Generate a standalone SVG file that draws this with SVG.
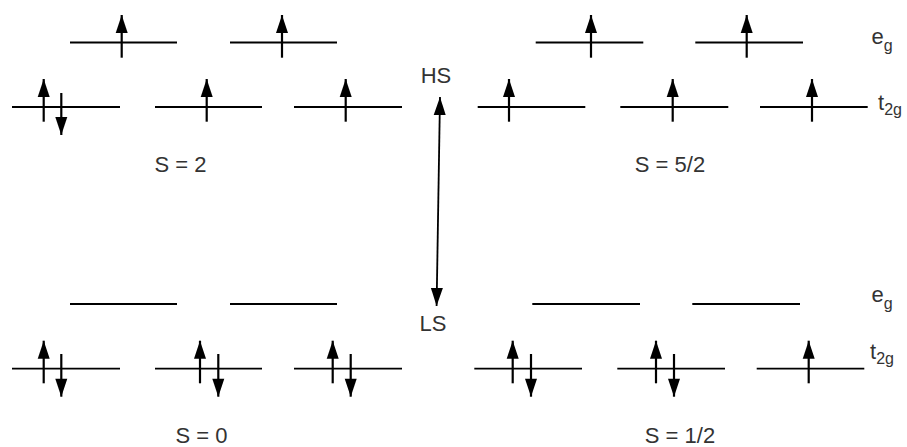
<svg xmlns="http://www.w3.org/2000/svg" width="907" height="447" viewBox="0 0 907 447">
<defs>
<marker id="ah" markerUnits="userSpaceOnUse" markerWidth="18" markerHeight="12" refX="18" refY="6" orient="auto" overflow="visible">
<path d="M0,0 L18,6 L0,12 z" fill="#000"/>
</marker>
<style>
.lv{stroke:#000;stroke-width:1.8;fill:none}
.sp{stroke:#000;stroke-width:2.2;fill:none;marker-end:url(#ah)}
.lb{font-family:"Liberation Sans",Arial,sans-serif;fill:#333}
.big{font-size:22px}
.orb{font-size:22px}
.sub{font-size:16px}
</style>
</defs>
<rect width="907" height="447" fill="#fff"/>

<g id="hs-s2">
<line class="lv" x1="70" y1="42.5" x2="177" y2="42.5"/>
<line class="lv" x1="230" y1="42.5" x2="337" y2="42.5"/>
<line class="sp" x1="121.7" y1="57.7" x2="121.7" y2="15"/>
<line class="sp" x1="282" y1="57.7" x2="282" y2="15"/>
<line class="lv" x1="12" y1="107" x2="120" y2="107"/>
<line class="lv" x1="155" y1="107" x2="262" y2="107"/>
<line class="lv" x1="294" y1="107" x2="402" y2="107"/>
<line class="sp" x1="43.7" y1="121.7" x2="43.7" y2="79"/>
<line class="sp" x1="61.3" y1="93" x2="61.3" y2="135"/>
<line class="sp" x1="206.7" y1="121.7" x2="206.7" y2="79"/>
<line class="sp" x1="345.7" y1="121.7" x2="345.7" y2="79"/>
<text class="lb big" x="180.5" y="172" text-anchor="middle">S = 2</text>
</g>

<g id="hs-s52">
<line class="lv" x1="535.7" y1="42.5" x2="643.3" y2="42.5"/>
<line class="lv" x1="695.3" y1="42.5" x2="803" y2="42.5"/>
<line class="sp" x1="591" y1="57.7" x2="591" y2="15"/>
<line class="sp" x1="746.7" y1="57.7" x2="746.7" y2="15"/>
<line class="lv" x1="477.7" y1="107" x2="585.3" y2="107"/>
<line class="lv" x1="620.3" y1="107" x2="728.3" y2="107"/>
<line class="lv" x1="760" y1="107" x2="867.7" y2="107"/>
<line class="sp" x1="509" y1="121.7" x2="509" y2="79"/>
<line class="sp" x1="672.7" y1="121.7" x2="672.7" y2="79"/>
<line class="sp" x1="812" y1="121.7" x2="812" y2="79"/>
<text class="lb big" x="670" y="172" text-anchor="middle">S = 5/2</text>
<text class="lb orb" x="871.5" y="44">e<tspan class="sub" dy="7">g</tspan></text>
<text class="lb orb" x="878" y="110">t<tspan class="sub" dy="5">2g</tspan></text>
</g>

<g id="ls-s0">
<line class="lv" x1="70" y1="304" x2="177" y2="304"/>
<line class="lv" x1="230" y1="304" x2="337" y2="304"/>
<line class="lv" x1="12" y1="368.7" x2="120" y2="368.7"/>
<line class="lv" x1="155" y1="368.7" x2="262" y2="368.7"/>
<line class="lv" x1="294" y1="368.7" x2="402" y2="368.7"/>
<line class="sp" x1="43.7" y1="383.3" x2="43.7" y2="340.7"/>
<line class="sp" x1="61.3" y1="354" x2="61.3" y2="396.7"/>
<line class="sp" x1="200" y1="383.3" x2="200" y2="340.7"/>
<line class="sp" x1="218.3" y1="354" x2="218.3" y2="396.7"/>
<line class="sp" x1="332.7" y1="383.3" x2="332.7" y2="340.7"/>
<line class="sp" x1="350.7" y1="354" x2="350.7" y2="396.7"/>
<text class="lb big" x="201.5" y="443" text-anchor="middle">S = 0</text>
</g>

<g id="ls-s12">
<line class="lv" x1="532.3" y1="304" x2="640" y2="304"/>
<line class="lv" x1="692.3" y1="304" x2="800" y2="304"/>
<line class="lv" x1="474.3" y1="368.7" x2="582" y2="368.7"/>
<line class="lv" x1="617.3" y1="368.7" x2="725" y2="368.7"/>
<line class="lv" x1="756.7" y1="368.7" x2="864.3" y2="368.7"/>
<line class="sp" x1="512.7" y1="383.3" x2="512.7" y2="340.7"/>
<line class="sp" x1="531" y1="354" x2="531" y2="396.7"/>
<line class="sp" x1="656" y1="383.3" x2="656" y2="340.7"/>
<line class="sp" x1="674" y1="354" x2="674" y2="396.7"/>
<line class="sp" x1="808.7" y1="383.3" x2="808.7" y2="340.7"/>
<text class="lb big" x="680" y="443" text-anchor="middle">S = 1/2</text>
<text class="lb orb" x="871.5" y="302">e<tspan class="sub" dy="7">g</tspan></text>
<text class="lb orb" x="870" y="359">t<tspan class="sub" dy="5">2g</tspan></text>
</g>

<g id="hs-label"><text class="lb orb" x="436" y="83" text-anchor="middle">HS</text></g>
<g id="ls-label"><text class="lb orb" x="433" y="331" text-anchor="middle">LS</text></g>

<g id="connectors">
<line x1="438.3" y1="201" x2="440" y2="97" stroke="#000" stroke-width="1.8" marker-end="url(#ah)"/>
<line x1="438.3" y1="201" x2="436.6" y2="306" stroke="#000" stroke-width="1.8" marker-end="url(#ah)"/>
</g>
</svg>
